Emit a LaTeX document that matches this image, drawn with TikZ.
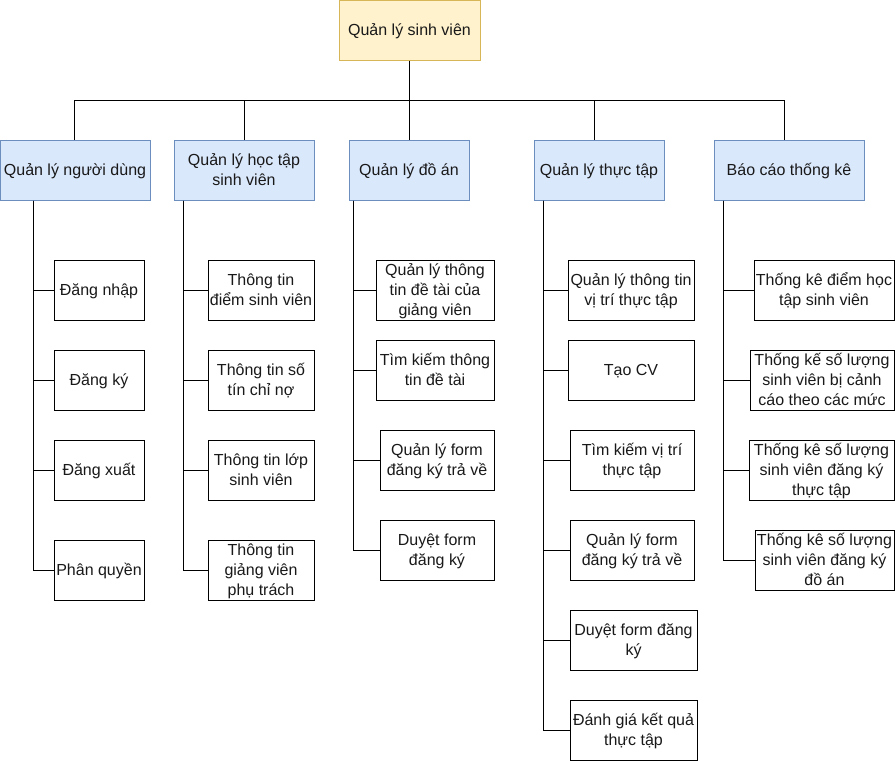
\documentclass[tikz,border=0pt]{standalone}
\usepackage{fontspec}
\setmainfont{Liberation Sans}
\definecolor{rootfill}{HTML}{FFF2CC}
\definecolor{rootline}{HTML}{D6B656}
\definecolor{groupfill}{HTML}{DAE8FC}
\definecolor{groupline}{HTML}{6C8EBF}
% label text with struts on its first and last line,
% so each block of lines is centred like a web line box
\newcommand\lbl[1]{\rule{0pt}{15.2pt}#1\rule[-4.2pt]{0pt}{0pt}}
\begin{document}
\begin{tikzpicture}[x=1pt,y=-1pt,
  every node/.style={font=\fontsize{16}{20}\selectfont, align=center,
    inner sep=0pt, line width=1pt, text=black!90},
  box/.style={draw=black, fill=white, minimum height=60},
  rootbox/.style={draw=rootline, fill=rootfill, minimum height=60},
  groupbox/.style={draw=groupline, fill=groupfill, minimum height=60},
  link/.style={draw=black, line width=1pt}]
\useasboundingbox (0,0) rectangle (895,761);

% top level
\node[rootbox, minimum width=141] (root) at (409.5,30) {\lbl{Quản lý sinh viên}};
\coordinate (bus) at (0,100);

% second level
\node[groupbox, minimum width=150] (p1) at (75,170) {\lbl{Quản lý người dùng}};
\node[groupbox, minimum width=140] (p2) at (244,170) {\lbl{Quản lý học tập\\sinh viên}};
\node[groupbox, minimum width=120] (p3) at (409,170) {\lbl{Quản lý đồ án}};
\node[groupbox, minimum width=130] (p4) at (599,170) {\lbl{Quản lý thực tập}};
\node[groupbox, minimum width=150] (p5) at (789,170) {\lbl{Báo cáo thống kê}};

% user management
\node[box, minimum width=90] (a1) at (99,290) {\lbl{Đăng nhập}};
\node[box, minimum width=90] (a2) at (99,380) {\lbl{Đăng ký}};
\node[box, minimum width=90] (a3) at (99,470) {\lbl{Đăng xuất}};
\node[box, minimum width=90] (a4) at (99,570) {\lbl{Phân quyền}};

% study management
\node[box, minimum width=106] (b1) at (261,290) {\lbl{Thông tin\\điểm sinh viên}};
\node[box, minimum width=106] (b2) at (261,380) {\lbl{Thông tin số\\tín chỉ nợ}};
\node[box, minimum width=106] (b3) at (261,470) {\lbl{Thông tin lớp\\sinh viên}};
\node[box, minimum width=106] (b4) at (261,570) {\lbl{Thông tin\\giảng viên\\phụ trách}};

% project management
\node[box, minimum width=118] (c1) at (435,290) {\lbl{Quản lý thông\\tin đề tài của\\giảng viên}};
\node[box, minimum width=118] (c2) at (435,370) {\lbl{Tìm kiếm thông\\tin đề tài}};
\node[box, minimum width=114] (c3) at (437,460) {\lbl{Quản lý form\\đăng ký trả về}};
\node[box, minimum width=114] (c4) at (437,550) {\lbl{Duyệt form\\đăng ký}};

% internship management
\node[box, minimum width=126] (d1) at (631,290) {\lbl{Quản lý thông tin\\vị trí thực tập}};
\node[box, minimum width=126] (d2) at (631,370) {\lbl{Tạo CV}};
\node[box, minimum width=124] (d3) at (632,460) {\lbl{Tìm kiếm vị trí\\thực tập}};
\node[box, minimum width=124] (d4) at (632,550) {\lbl{Quản lý form\\đăng ký trả về}};
\node[box, minimum width=127] (d5) at (633.5,640) {\lbl{Duyệt form đăng\\ký}};
\node[box, minimum width=127] (d6) at (633.5,730) {\lbl{Đánh giá kết quả\\thực tập}};

% statistics
\node[box, minimum width=140] (e1) at (824,290) {\lbl{Thống kê điểm học\\tập sinh viên}};
\node[box, minimum width=144] (e2) at (822,380) {\lbl{Thống kế số lượng\\sinh viên bị cảnh\\cáo theo các mức}};
\node[box, minimum width=145] (e3) at (821.5,470) {\lbl{Thống kê số lượng\\sinh viên đăng ký\\thực tập}};
\node[box, minimum width=139] (e4) at (824.5,560) {\lbl{Thống kê số lượng\\sinh viên đăng ký\\đồ án}};

% root to second level
\draw[link] (root.south) -- (root.south |- bus);
\draw[link] ([xshift=-0.5pt]p1.north) |- (root.south |- bus);
\draw[link] (p2.north) |- (root.south |- bus);
\draw[link] (p3.north) |- (root.south |- bus);
\draw[link] ([xshift=-5pt]p4.north) |- (root.south |- bus);
\draw[link] ([xshift=-5pt]p5.north) |- (root.south |- bus);

% second level to leaves
\foreach \n in {a1,a2,a3,a4}
  \draw[link] ([xshift=34pt]p1.south west) |- (\n.west);
\foreach \n in {b1,b2,b3,b4}
  \draw[link] ([xshift=10pt]p2.south west) |- (\n.west);
\foreach \n in {c1,c2,c3,c4}
  \draw[link] ([xshift=5pt]p3.south west) |- (\n.west);
\foreach \n in {d1,d2,d3,d4,d5,d6}
  \draw[link] ([xshift=10pt]p4.south west) |- (\n.west);
\foreach \n in {e1,e2,e3,e4}
  \draw[link] ([xshift=10pt]p5.south west) |- (\n.west);
\end{tikzpicture}
\end{document}
